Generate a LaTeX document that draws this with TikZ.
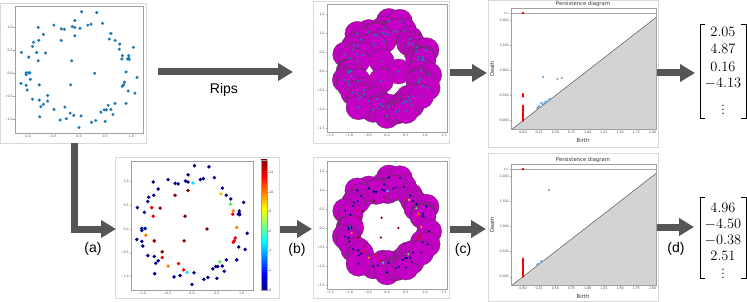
\documentclass[tikz,border=0pt]{standalone}
\usepackage{fontspec}
\setsansfont{Liberation Sans}
\newfontfamily\plotfont{DejaVu Sans}
\usetikzlibrary{arrows.meta}
\definecolor{tabblue}{HTML}{1F77B4}
\definecolor{pblue}{HTML}{5D9FD6}
\definecolor{mag}{HTML}{C400C4}
\definecolor{arrowgray}{HTML}{555555}
\definecolor{panelgray}{HTML}{D9D9D9}
\definecolor{axgray}{HTML}{A0A0A0}
\definecolor{tickgray}{HTML}{505050}
\definecolor{pdfill}{HTML}{D3D3D3}
\definecolor{jn}{HTML}{00008B}
\definecolor{jnav}{HTML}{000080}
\definecolor{jc}{HTML}{00E0FF}
\definecolor{jg}{HTML}{50F050}
\definecolor{jy}{HTML}{FFC000}
\definecolor{jo}{HTML}{FF8000}
\definecolor{jr}{HTML}{F00000}
\definecolor{jd}{HTML}{8B0000}
\tikzset{
  bigarrow/.style={line width=7pt, draw=arrowgray, -{Triangle[length=15pt,width=17pt]}},
  panelbox/.style={draw=panelgray, line width=0.6pt, fill=white, inner sep=0pt, outer sep=0pt},
  axframe/.style={draw=axgray, line width=0.5pt},
  tk/.style={draw=axgray, line width=0.4pt},
  ticklab/.style={font=\plotfont\fontsize{3.2}{3.6}\selectfont, text=tickgray, inner sep=0.6pt},
  pdlab/.style={font=\plotfont\fontsize{5.3}{6}\selectfont, text=black!80, inner sep=0pt},
  biglab/.style={font=\sffamily\fontsize{14}{16}\selectfont, inner sep=0pt},
  vecnum/.style={font=\fontsize{14.4}{17}\selectfont, inner sep=0pt},
  bracket/.style={line width=0.9pt, draw=black},
  ripsdisk/.style={fill=mag, draw=black!75, line width=0.28pt},
  pdline/.style={draw=black!65, line width=0.5pt},
  infline/.style={draw=black!35, line width=0.5pt}
}
\def\ptdata{%
0.05/1.33/jn/1, 0.34/1.31/jn/1, -0.08/1.14/jn/1, 0.45/1.08/jn/1,
-0.48/1.04/jn/1, -0.13/1.01/jn/1, -0.08/0.99/jn/1, 0.02/0.97/jc/1,
0.17/1.04/jn/1, 0.23/1.06/jn/1, -0.78/0.99/jn/1, -0.34/0.96/jn/1,
-0.28/0.95/jn/1, -0.68/0.84/jn/1, -0.08/0.81/jd/0, 0.61/0.86/jn/1,
0.58/0.74/jy/0, 0.69/0.71/jn/1, -0.34/0.71/jd/0, -0.77/0.71/jn/1,
-0.87/0.67/jn/1, -0.89/0.58/jn/1, 0.78/0.63/jn/1, 0.77/0.52/jg/1,
1.04/0.56/jn/1, -1.10/0.45/jn/1, -0.81/0.45/jr/0, -0.64/0.44/jd/0,
0.83/0.38/jo/0, 0.82/0.31/jr/0, 0.95/0.38/jn/1, 0.95/0.33/jn/1,
0.93/0.31/jn/1, 0.96/0.30/jn/1, -0.96/0.35/jn/1, -0.78/0.27/jr/0,
-0.14/0.27/jd/0, -1.01/0.01/jn/1, -1.01/-0.03/jn/1, -0.96/0.01/jc/1,
-0.94/0.01/jn/1, 0.30/0.0/jd/0, 0.90/0.03/jo/0, 1.11/-0.09/jn/1,
-0.93/-0.13/jo/0, -1.11/-0.22/jn/1, -1.01/-0.26/jn/1, -0.76/-0.25/jd/0,
-0.16/-0.25/jd/0, -0.99/-0.36/jn/1, 0.87/-0.19/jr/0, 0.85/-0.25/jr/0,
0.83/-0.28/jr/0, 0.94/-0.38/jn/1, 1.07/-0.43/jn/1, -0.60/-0.48/jd/0,
-0.60/-0.60/jr/0, -0.89/-0.56/jn/1, -0.76/-0.58/jn/1, -0.73/-0.72/jn/1,
-0.68/-0.67/jn/1, -0.48/-0.78/jo/0, -0.27/-0.73/jr/0, -0.17/-0.86/jr/0,
-0.10/-0.91/jc/1, 0.04/-0.92/jn/1, -0.36/-1.01/jn/1, -0.24/-0.98/jn/1,
-0.75/-0.94/jn/1, 0.0/-1.17/jn/1, 0.24/-1.06/jn/1, 0.32/-1.02/jn/1,
0.42/-0.84/jn/1, 0.48/-0.79/jn/1, 0.52/-0.79/jn/1, 0.56/-0.69/jg/1,
0.61/-0.78/jn/1, 0.69/-0.65/jn/1, 0.65/-0.89/jn/1, 0.50/-1.04/jn/1,
0.90/-0.65/jn/1}
\newcommand\pdbase{%
  \begin{scope}
    \clip (-0.185,-0.165) rectangle (2.052,2.24);
    \fill[pdfill] (-0.3,-0.3) -- (2.2,2.2) -- (2.2,-0.3) -- cycle;
    \draw[pdline] (-0.3,-0.3) -- (2.2,2.2);
  \end{scope}
  \draw[infline] (-0.185,2.141) -- (2.052,2.141);
  \draw[axframe] (-0.185,-0.165) rectangle (2.052,2.24);
  \foreach \v/\l in {0/0.00,0.25/0.25,0.5/0.50,0.75/0.75,1/1.00,1.25/1.25,1.5/1.50,1.75/1.75,2/2.00}{
    \draw[tk] (\v,-0.165) -- ++(0pt,-1.5pt) node[below,ticklab]{\l};}
  \foreach \v/\l in {0/0.000,0.5/0.500,1/1.000,1.5/1.500,2/2.000}{
    \draw[tk] (-0.185,\v) -- ++(-1.5pt,0pt) node[left,ticklab]{\l};}
  \draw[tk] (-0.185,2.141) -- ++(-1.5pt,0pt) node[left,ticklab]{+∞};
  \node[pdlab] (pdt) at (0.926,2.32) {Persistence diagram};
  \node[pdlab] (pdb) at (0.926,-0.384) {Birth};
  \node[pdlab, rotate=90] (pdd) at (-0.478,1.03) {Death};
}
\begin{document}
\begin{tikzpicture}[x=1pt,y=-1pt]
\useasboundingbox (0,0) rectangle (747,302);
\fill[white] (0,0) rectangle (747,302);

% ---------- panels ----------
\node[panelbox, anchor=north west, minimum width=145.5pt, minimum height=139.5pt] (p1) at (0.5,3.5) {};
\node[panelbox, anchor=north west, minimum width=136pt, minimum height=141.5pt] (p2) at (313,1.5) {};
\node[panelbox, anchor=north west, minimum width=170pt, minimum height=146.5pt] (p3) at (488,0.5) {};
\node[panelbox, anchor=north west, minimum width=164pt, minimum height=141pt] (p4) at (115,157) {};
\node[panelbox, anchor=north west, minimum width=136pt, minimum height=141pt] (p5) at (313,157) {};
\node[panelbox, anchor=north west, minimum width=170pt, minimum height=148pt] (p6) at (488,153) {};

% ---------- top-left scatter ----------
\begin{scope}[shift={(79,73.3)}]\begin{scope}[x=52.3pt,y=46.3pt]
  \draw[axframe] (-1.224,-1.289) rectangle (1.224,1.454);
  \foreach \v/\l in {-1/−1.0,-0.5/−0.5,0/0.0,0.5/0.5,1/1.0}{
    \draw[tk] (\v,-1.289) -- ++(0pt,-1.5pt) node[below,ticklab]{\l};
    \draw[tk] (-1.224,\v) -- ++(-1.5pt,0pt) node[left,ticklab]{\l};}
  \foreach \a/\b/\c/\k in \ptdata {\fill[tabblue] (\a,\b) circle[radius=1.7pt];}
\end{scope}\end{scope}

% ---------- top Rips ----------
\begin{scope}[shift={(387,71.5)}]\begin{scope}[x=38pt,y=38pt]
  \begin{scope}
    \clip (-1.579,-1.592) rectangle (1.579,1.776);
    \foreach \a/\b/\c/\k in \ptdata {\filldraw[ripsdisk] (\a,\b) circle[radius=0.33];}
    \foreach \a/\b/\c/\k in \ptdata {\fill[tabblue] (\a,\b) circle[radius=1.25pt];}
  \end{scope}
  \draw[axframe] (-1.579,-1.592) rectangle (1.579,1.776);
  \foreach \v/\l in {-1.5/−1.5,-1/−1.0,-0.5/−0.5,0/0.0,0.5/0.5,1/1.0,1.5/1.5}{
    \draw[tk] (\v,-1.592) -- ++(0pt,-1.5pt) node[below,ticklab]{\l};
    \draw[tk] (-1.579,\v) -- ++(-1.5pt,0pt) node[left,ticklab]{\l};}
\end{scope}\end{scope}

% ---------- top persistence diagram ----------
\begin{scope}[shift={(523,120.7)}]\begin{scope}[x=64.8pt,y=50.3pt]
  \pdbase
  \draw[red, line width=2.6pt, line cap=round] (0,0) -- (0,0.3);
  \draw[red, line width=2.6pt, line cap=round] (0,0.48) -- (0,0.53);
  \fill[red] (0,2.141) circle[radius=1.3pt];
  \foreach \a/\b in {0.22/0.25,0.24/0.27,0.25/0.29,0.28/0.35,0.3/0.33,0.33/0.36,0.36/0.38,0.4/0.41,0.42/0.43,0.31/0.87,0.53/0.83,0.6/0.85}
    {\fill[pblue, opacity=0.85] (\a,\b) circle[radius=1.3pt];}
\end{scope}\end{scope}

% ---------- colored scatter ----------
\begin{scope}[shift={(192,229)}]\begin{scope}[x=49.7pt,y=47.5pt]
  \draw[axframe] (-1.227,-1.284) rectangle (1.227,1.432);
  \foreach \v/\l in {-1/−1.0,-0.5/−0.5,0/0.0,0.5/0.5,1/1.0}{
    \draw[tk] (\v,-1.284) -- ++(0pt,-1.5pt) node[below,ticklab]{\l};
    \draw[tk] (-1.227,\v) -- ++(-1.5pt,0pt) node[left,ticklab]{\l};}
  \foreach \a/\b/\c/\k in \ptdata {\fill[\c] (\a,\b) circle[radius=1.9pt];}
\end{scope}\end{scope}
% colorbar
\foreach \lo/\hi/\ca/\cb in {0/0.125/jnav/blue,0.125/0.375/blue/cyan,0.375/0.625/cyan/yellow,0.625/0.875/yellow/red,0.875/1/red/jd}{
  \shade[bottom color=\ca, top color=\cb] (261,{290-130*\lo}) rectangle (267,{290-130*\hi});}
\draw[axframe] (261,160) rectangle (267,290);
\foreach \v in {0,2,4,6,8,10,12}{
  \draw[tk] (267,{290-9.8*\v}) -- ++(1.5,0) node[right,ticklab]{\v};}

% ---------- bottom Rips ----------
\begin{scope}[shift={(387,228)}]\begin{scope}[x=38pt,y=38pt]
  \begin{scope}
    \clip (-1.579,-1.605) rectangle (1.579,1.763);
    \foreach \a/\b/\c/\k in \ptdata {\ifnum\k=1\relax \filldraw[ripsdisk] (\a,\b) circle[radius=0.33];\fi}
    \foreach \a/\b/\c/\k in \ptdata {\fill[\c] (\a,\b) circle[radius=1.25pt];}
  \end{scope}
  \draw[axframe] (-1.579,-1.605) rectangle (1.579,1.763);
  \foreach \v/\l in {-1.5/−1.5,-1/−1.0,-0.5/−0.5,0/0.0,0.5/0.5,1/1.0,1.5/1.5}{
    \draw[tk] (\v,-1.605) -- ++(0pt,-1.5pt) node[below,ticklab]{\l};
    \draw[tk] (-1.579,\v) -- ++(-1.5pt,0pt) node[left,ticklab]{\l};}
\end{scope}\end{scope}

% ---------- bottom persistence diagram ----------
\begin{scope}[shift={(523,276.7)}]\begin{scope}[x=64.8pt,y=50.3pt]
  \pdbase
  \draw[red, line width=2.6pt, line cap=round] (0,0) -- (0,0.36);
  \fill[red] (0,2.141) circle[radius=1.3pt];
  \foreach \a/\b in {0.22/0.24,0.24/0.26,0.28/0.31,0.4/1.72}
    {\fill[pblue, opacity=0.85] (\a,\b) circle[radius=1.3pt];}
\end{scope}\end{scope}

% ---------- arrows ----------
\coordinate (r1s) at (158,72);  \coordinate (r1e) at (293,72);
\coordinate (r2s) at (450,73);  \coordinate (r2e) at (487,73);
\coordinate (r3s) at (657,73);  \coordinate (r3e) at (695,73);
\coordinate (las) at (74.5,143.3); \coordinate (lae) at (116,229);
\coordinate (bs) at (280,229);  \coordinate (be) at (312,229);
\coordinate (cs) at (450,229);  \coordinate (ce) at (486,229);
\coordinate (ds) at (657,227);  \coordinate (de) at (694,227);
\draw[bigarrow] (r1s) -- (r1e);
\draw[bigarrow] (r2s) -- (r2e);
\draw[bigarrow] (r3s) -- (r3e);
\draw[bigarrow] (las) |- (lae);
\draw[bigarrow] (bs) -- (be);
\draw[bigarrow] (cs) -- (ce);
\draw[bigarrow] (ds) -- (de);
\node[biglab] (rips) at (224,90) {Rips};
\node[biglab] (la) at (93,249) {(a)};
\node[biglab] (lb) at (297,250) {(b)};
\node[biglab] (lc) at (463,250) {(c)};
\node[biglab] (ld) at (676,249) {(d)};

% ---------- vectors ----------
\draw[bracket] (705,24) -- (700,24) -- (700,118) -- (705,118);
\draw[bracket] (741,24) -- (746,24) -- (746,118) -- (741,118);
\node[vecnum] (v11) at (723,32) {$2.05$};
\node[vecnum] (v12) at (723,49) {$4.87$};
\node[vecnum] (v13) at (723,67) {$0.16$};
\node[vecnum] (v14) at (723,83.5) {$-4.13$};
\node[vecnum] (v15) at (723,107) {$\vdots$};
\draw[bracket] (705,197) -- (700,197) -- (700,278) -- (705,278);
\draw[bracket] (741,197) -- (746,197) -- (746,278) -- (741,278);
\node[vecnum] (v21) at (723,208) {$4.96$};
\node[vecnum] (v22) at (723,224) {$-4.50$};
\node[vecnum] (v23) at (723,240) {$-0.38$};
\node[vecnum] (v24) at (723,255.5) {$2.51$};
\node[vecnum] (v25) at (723,271) {$\vdots$};
\end{tikzpicture}
\end{document}
